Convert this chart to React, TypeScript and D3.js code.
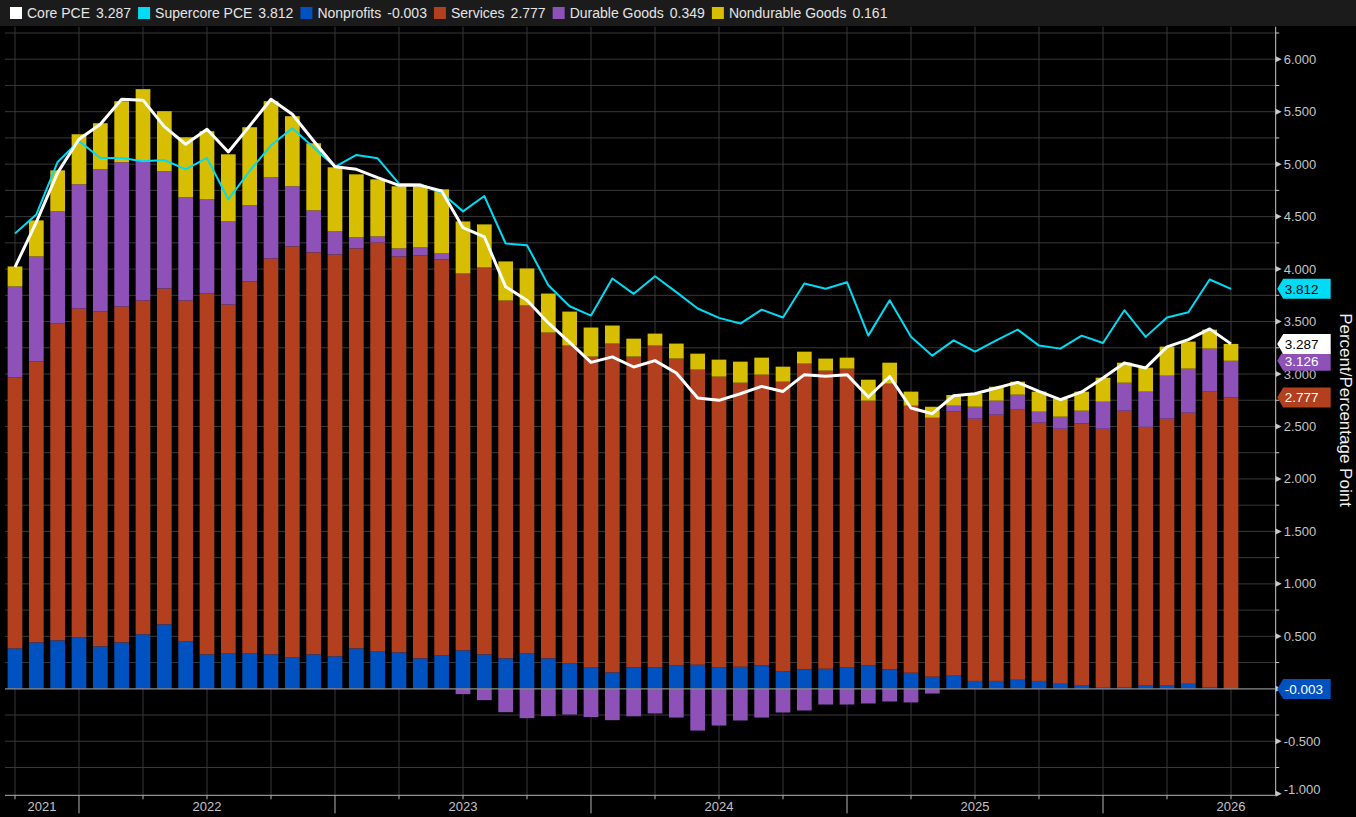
import * as d3 from "d3";
import { useEffect, useRef } from "react";

// monthly observations, Sep 2021 .. Jun 2026
const months = [
  "2021-09", "2021-10", "2021-11", "2021-12",
  "2022-01", "2022-02", "2022-03", "2022-04", "2022-05", "2022-06", "2022-07", "2022-08", "2022-09", "2022-10", "2022-11", "2022-12",
  "2023-01", "2023-02", "2023-03", "2023-04", "2023-05", "2023-06", "2023-07", "2023-08", "2023-09", "2023-10", "2023-11", "2023-12",
  "2024-01", "2024-02", "2024-03", "2024-04", "2024-05", "2024-06", "2024-07", "2024-08", "2024-09", "2024-10", "2024-11", "2024-12",
  "2025-01", "2025-02", "2025-03", "2025-04", "2025-05", "2025-06", "2025-07", "2025-08", "2025-09", "2025-10", "2025-11", "2025-12",
  "2026-01", "2026-02", "2026-03", "2026-04", "2026-05", "2026-06",
];

const nonprofits = [
  0.385, 0.442, 0.461, 0.493, 0.404, 0.442, 0.519, 0.614, 0.455, 0.328,
  0.340, 0.340, 0.328, 0.302, 0.328, 0.309, 0.385, 0.360, 0.347, 0.290,
  0.321, 0.366, 0.328, 0.290, 0.340, 0.290, 0.245, 0.207, 0.156, 0.205,
  0.204, 0.223, 0.229, 0.204, 0.210, 0.223, 0.165, 0.185, 0.191, 0.204,
  0.223, 0.185, 0.153, 0.115, 0.125, 0.075, 0.075, 0.086, 0.075, 0.048,
  0.030, 0.010, 0.017, 0.036, 0.030, 0.048, 0.017, -0.003,
];

const services = [
  2.583, 2.679, 3.023, 3.131, 3.194, 3.201, 3.181, 3.201, 3.245, 3.439,
  3.322, 3.542, 3.773, 3.914, 3.831, 3.830, 3.812, 3.894, 3.773, 3.840,
  3.771, 3.592, 3.687, 3.410, 3.313, 3.105, 3.026, 2.959, 3.134, 2.961,
  3.067, 2.924, 2.813, 2.771, 2.707, 2.771, 2.762, 2.914, 2.841, 2.847,
  2.523, 2.723, 2.545, 2.468, 2.516, 2.499, 2.537, 2.574, 2.461, 2.430,
  2.499, 2.468, 2.633, 2.461, 2.544, 2.583, 2.815, 2.777,
];

const durableGoods = [
  0.866, 0.999, 1.066, 1.184, 1.353, 1.375, 1.327, 1.117, 0.984, 0.897,
  0.792, 0.725, 0.773, 0.573, 0.400, 0.220, 0.105, 0.057, 0.077, 0.076,
  0.057, -0.051, -0.108, -0.223, -0.280, -0.261, -0.245, -0.270, -0.299, -0.262,
  -0.235, -0.274, -0.398, -0.350, -0.302, -0.274, -0.226, -0.207, -0.150, -0.150,
  -0.140, -0.121, -0.130, -0.045, 0.057, 0.114, 0.134, 0.143, 0.105, 0.115,
  0.121, 0.258, 0.267, 0.335, 0.410, 0.420, 0.410, 0.349,
];

const nondurableGoods = [
  0.191, 0.344, 0.391, 0.477, 0.439, 0.582, 0.688, 0.573, 0.572, 0.650,
  0.640, 0.745, 0.726, 0.668, 0.640, 0.611, 0.601, 0.544, 0.592, 0.583,
  0.611, 0.496, 0.411, 0.373, 0.353, 0.372, 0.324, 0.277, 0.172, 0.171,
  0.114, 0.143, 0.152, 0.162, 0.201, 0.162, 0.143, 0.114, 0.115, 0.105,
  0.200, 0.200, 0.134, 0.105, 0.102, 0.122, 0.133, 0.124, 0.191, 0.172,
  0.182, 0.229, 0.191, 0.229, 0.277, 0.258, 0.181, 0.161,
];

const corePce = [
  4.018, 4.448, 4.919, 5.237, 5.380, 5.619, 5.610, 5.358, 5.190, 5.333,
  5.116, 5.365, 5.619, 5.476, 5.221, 4.975, 4.951, 4.871, 4.798, 4.798,
  4.744, 4.394, 4.308, 3.831, 3.703, 3.487, 3.302, 3.111, 3.163, 3.067,
  3.128, 3.010, 2.771, 2.749, 2.812, 2.882, 2.834, 2.994, 2.978, 2.994,
  2.781, 2.975, 2.676, 2.622, 2.793, 2.812, 2.867, 2.920, 2.834, 2.755,
  2.829, 2.962, 3.105, 3.058, 3.258, 3.328, 3.430, 3.287,
];

const supercorePce = [
  4.340, 4.521, 5.021, 5.221, 5.059, 5.059, 5.027, 5.040, 4.951, 5.059,
  4.664, 4.935, 5.180, 5.342, 5.158, 4.975, 5.088, 5.056, 4.814, 4.808,
  4.728, 4.550, 4.696, 4.244, 4.228, 3.846, 3.646, 3.557, 3.910, 3.764,
  3.932, 3.780, 3.624, 3.535, 3.481, 3.614, 3.538, 3.863, 3.812, 3.875,
  3.366, 3.703, 3.354, 3.175, 3.321, 3.213, 3.321, 3.423, 3.271, 3.242,
  3.366, 3.296, 3.608, 3.354, 3.538, 3.589, 3.901, 3.812,
];

const years = [2021, 2022, 2023, 2024, 2025, 2026];
const yTicks = [-1, -0.5, 0, 0.5, 1, 1.5, 2, 2.5, 3, 3.5, 4, 4.5, 5, 5.5, 6];

const W = 1356;
const H = 817;

const colors = {
  core: "#ffffff",
  supercore: "#00dcf5",
  nonprofits: "#0052c0",
  services: "#b2401f",
  durable: "#8d51b7",
  nondurable: "#d7be00",
};

// Bloomberg prints a plain hyphen for negatives
const fmt = (v: number) => v.toFixed(3);

export default function App() {
  const ref = useRef<SVGSVGElement | null>(null);

  useEffect(() => {
    const svg = d3.select(ref.current);
    svg.selectAll("*").remove();

    const font = "'Liberation Sans', Arial, sans-serif";
    const left = 5;
    const right = 1275.7;
    const top = 26.7;
    const bottom = 795.3;
    const last = months.length - 1;

    svg.append("rect").attr("width", W).attr("height", H).attr("fill", "#000");
    svg.append("rect").attr("width", W).attr("height", 26).attr("fill", "#1b1b1b");

    const x = d3
      .scaleBand<string>()
      .domain(months)
      .range([4.33, 1241.67])
      .paddingInner(0.31)
      .paddingOuter(0.155);
    const cx = (m: string) => (x(m) ?? 0) + x.bandwidth() / 2;
    const step = x.step();

    const y = d3.scaleLinear().domain([-1.015, 6.31]).range([bottom, top]);

    // grid
    const grid = svg.append("g").attr("stroke", "#383838").attr("stroke-width", 1);
    d3.range(-3, 26)
      .map((i) => i / 4)
      .filter((v) => v !== 0)
      .forEach((v) => {
        grid.append("line").attr("x1", left).attr("x2", right).attr("y1", y(v)).attr("y2", y(v));
      });
    months
      .filter((_, i) => i % 3 === 0)
      .forEach((m) => {
        grid.append("line").attr("x1", cx(m)).attr("x2", cx(m)).attr("y1", top).attr("y2", bottom);
      });

    // stacked bars
    const table = months.map((m, i) => ({
      month: m,
      nonprofits: nonprofits[i],
      services: services[i],
      durable: durableGoods[i],
      nondurable: nondurableGoods[i],
    }));
    const keys = ["nonprofits", "services", "durable", "nondurable"];
    const stacked = d3.stack<any>().keys(keys).offset(d3.stackOffsetDiverging)(table);

    stacked.forEach((s) => {
      svg
        .append("g")
        .attr("fill", colors[s.key as keyof typeof colors])
        .selectAll("rect")
        .data(s)
        .join("rect")
        .attr("x", (d) => x(d.data.month) ?? 0)
        .attr("width", x.bandwidth())
        .attr("y", (d) => y(Math.max(d[0], d[1])))
        .attr("height", (d) => Math.abs(y(d[0]) - y(d[1])));
    });

    // zero line
    svg
      .append("line")
      .attr("x1", left)
      .attr("x2", right)
      .attr("y1", y(0))
      .attr("y2", y(0))
      .attr("stroke", "#8c8c8c")
      .attr("stroke-width", 1.3);

    // lines
    const line = d3
      .line<number>()
      .x((_, i) => cx(months[i]))
      .y((d) => y(d));

    svg
      .append("path")
      .datum(supercorePce)
      .attr("fill", "none")
      .attr("stroke", colors.supercore)
      .attr("stroke-width", 2)
      .attr("stroke-linejoin", "round")
      .attr("d", line);

    svg
      .append("path")
      .datum(corePce)
      .attr("fill", "none")
      .attr("stroke", colors.core)
      .attr("stroke-width", 3)
      .attr("stroke-linejoin", "round")
      .attr("d", line);

    // value tags (stack tops for services / durable goods)
    const topOf = (key: string) => {
      const s = stacked.find((d) => d.key === key)!;
      return s[last][1];
    };
    const tags = [
      { value: supercorePce[last], fill: colors.supercore, text: "#000" },
      { value: topOf("services"), fill: colors.services, text: "#fff" },
      { value: topOf("durable"), fill: colors.durable, text: "#fff" },
      { value: corePce[last], fill: colors.core, text: "#000" },
      { value: nonprofits[last], fill: colors.nonprofits, text: "#fff" },
    ];

    // right axis
    const axis = svg.append("g").attr("font-family", font).attr("font-size", 13);
    axis
      .append("line")
      .attr("x1", right)
      .attr("x2", right)
      .attr("y1", top)
      .attr("y2", bottom)
      .attr("stroke", "#c8c8c8");
    d3.range(-3, 26)
      .map((i) => i / 4)
      .filter((v) => !yTicks.includes(v))
      .forEach((v) => {
        axis
          .append("line")
          .attr("x1", right)
          .attr("x2", right + 3.5)
          .attr("y1", y(v))
          .attr("y2", y(v))
          .attr("stroke", "#c8c8c8");
      });
    yTicks.forEach((v) => {
      const ty = y(v);
      axis
        .append("path")
        .attr("d", `M${right},${ty - 3}L${right + 6},${ty}L${right},${ty + 3}Z`)
        .attr("fill", "#c8c8c8");
      // labels hidden behind a value tag are not drawn
      if (tags.some((t) => Math.abs(y(t.value) - ty) < 8)) return;
      axis
        .append("text")
        .attr("x", right + 8)
        .attr("y", Math.min(ty, 789))
        .attr("dy", "0.35em")
        .attr("fill", "#c4c4c4")
        .text(fmt(v));
    });

    // bottom axis
    const xa = svg.append("g").attr("stroke", "#b4b4b4");
    xa.append("line").attr("x1", left).attr("x2", right).attr("y1", bottom).attr("y2", bottom);
    months.forEach((m, i) => {
      if (i % 3 !== 0) return;
      const yearEdge = m.endsWith("-12");
      xa.append("line")
        .attr("x1", cx(m))
        .attr("x2", cx(m))
        .attr("y1", bottom)
        .attr("y2", bottom + (yearEdge ? 18 : 4));
    });

    // a year starts at the December bar of the year before
    const edge = (yr: number) => {
      const key = `${yr - 1}-12`;
      if (months.includes(key)) return cx(key);
      const prev = `${yr - 2}-12`;
      if (months.includes(prev)) return cx(prev) + 12 * step;
      return -Infinity;
    };
    years.forEach((yr) => {
      const a = Math.max(left, edge(yr));
      const b = edge(yr + 1);
      svg
        .append("text")
        .attr("x", (a + b) / 2)
        .attr("y", 806)
        .attr("dy", "0.35em")
        .attr("text-anchor", "middle")
        .attr("font-family", font)
        .attr("font-size", 13)
        .attr("fill", "#c4c4c4")
        .text(yr);
    });

    tags.forEach((t) => {
      const ty = y(t.value);
      const g = svg.append("g");
      g.append("path")
        .attr("d", `M${right + 1.5},${ty}L${right + 7.5},${ty - 10}H${right + 55}V${ty + 10}H${right + 7.5}Z`)
        .attr("fill", t.fill);
      g.append("text")
        .attr("x", right + 9)
        .attr("y", ty)
        .attr("dy", "0.36em")
        .attr("font-family", font)
        .attr("font-size", 13.5)
        .attr("fill", t.text)
        .text(fmt(t.value));
    });

    // axis title
    svg
      .append("text")
      .attr("transform", `translate(1340,410) rotate(90)`)
      .attr("text-anchor", "middle")
      .attr("font-family", font)
      .attr("font-size", 17)
      .attr("fill", "#f0f0f0")
      .text("Percent/Percentage Point");

    // legend
    const legendItems = [
      { name: "Core PCE", value: corePce[last], color: colors.core },
      { name: "Supercore PCE", value: supercorePce[last], color: colors.supercore },
      { name: "Nonprofits", value: nonprofits[last], color: colors.nonprofits },
      { name: "Services", value: services[last], color: colors.services },
      { name: "Durable Goods", value: durableGoods[last], color: colors.durable },
      { name: "Nondurable Goods", value: nondurableGoods[last], color: colors.nondurable },
    ];
    let lx = 10;
    legendItems.forEach((item) => {
      svg.append("rect").attr("x", lx).attr("y", 7).attr("width", 12).attr("height", 12).attr("fill", item.color);
      const t = svg
        .append("text")
        .attr("x", lx + 17)
        .attr("y", 13)
        .attr("dy", "0.36em")
        .attr("font-family", font)
        .attr("font-size", 14)
        .attr("fill", "#e4e4e4");
      t.append("tspan").text(item.name);
      t.append("tspan").attr("dx", 6).text(fmt(item.value));
      const w = (t.node() as SVGTextElement).getComputedTextLength();
      lx += 17 + w + 13;
    });
  }, []);

  return (
    <>
      <style>{`body{margin:0;background:#000}`}</style>
      <svg ref={ref} width={W} height={H} style={{ display: "block" }}></svg>
    </>
  );
}
